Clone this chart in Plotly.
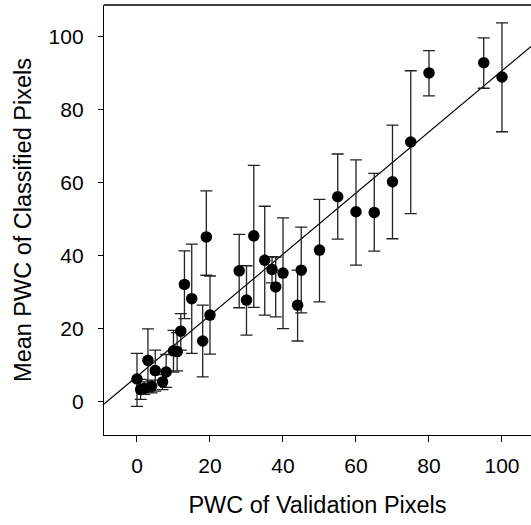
import plotly.graph_objects as go

# Data
validation_pwc = [0, 1, 2, 3, 4, 5, 7, 8, 10, 11, 12, 13, 15, 18, 19, 20,
                  28, 30, 32, 35, 37, 38, 40, 44, 45, 50, 55, 60, 65, 70, 75, 80, 95, 100]
mean_classified = [6.3, 3.4, 3.7, 11.4, 4.3, 8.6, 5.5, 8.2, 14.0, 13.8, 19.4, 32.2, 28.3, 16.7, 45.2, 23.8,
                   35.9, 27.9, 45.5, 38.8, 36.3, 31.5, 35.3, 26.5, 36.1, 41.6, 56.2, 52.1, 51.9, 60.3, 71.2, 90.1, 92.9, 89.0]
upper_bound = [13.3, 6.2, 5.5, 20.0, 6.0, 14.2, 7.5, 13.0, 19.6, 19.0, 24.2, 41.4, 43.2, 26.5, 57.8, 34.5,
               45.9, 37.3, 64.8, 53.6, 39.8, 39.7, 50.4, 36.1, 47.9, 55.5, 67.9, 66.3, 62.6, 75.8, 90.7, 96.2, 99.7, 103.8]
lower_bound = [-1.2, 0.7, 2.1, 2.7, 2.5, 3.0, 3.4, 4.0, 8.2, 8.5, 14.2, 22.8, 13.3, 6.9, 34.7, 13.1,
               25.8, 18.3, 25.9, 23.8, 32.6, 23.3, 20.1, 16.7, 24.4, 27.4, 44.6, 37.5, 41.3, 44.7, 51.6, 83.8, 85.9, 74.0]

fit_slope = 0.837
fit_intercept = 7.0

x_range = [-9.04, 107.95]
y_range = [-9.04, 108.7]
tick_vals = [0, 20, 40, 60, 80, 100]

err_plus = [u - m for u, m in zip(upper_bound, mean_classified)]
err_minus = [m - l for m, l in zip(mean_classified, lower_bound)]

FONT = "Liberation Sans, Arial, sans-serif"

fig = go.Figure()

fig.add_trace(go.Scatter(
    x=[x_range[0], x_range[1]],
    y=[fit_intercept + fit_slope * x_range[0], fit_intercept + fit_slope * x_range[1]],
    mode="lines",
    line=dict(color="black", width=1.2),
    hoverinfo="skip",
    showlegend=False,
))

fig.add_trace(go.Scatter(
    x=validation_pwc,
    y=mean_classified,
    mode="markers",
    marker=dict(color="black", size=11.5),
    error_y=dict(type="data", symmetric=False, array=err_plus, arrayminus=err_minus,
                 color="#222222", thickness=1.3, width=6),
    showlegend=False,
))

fig.update_layout(
    width=531, height=525,
    margin=dict(l=104, r=0, t=5, b=90),
    paper_bgcolor="white", plot_bgcolor="white",
    font=dict(family=FONT, color="black"),
    xaxis=dict(
        range=x_range, tickvals=tick_vals, showgrid=False, zeroline=False,
        showline=True, linecolor="black", linewidth=1.3,
        ticks="outside", ticklen=6, tickcolor="black", tickwidth=1,
        tickfont=dict(size=21, family=FONT), ticklabelstandoff=6,
        title=dict(text="PWC of Validation Pixels", font=dict(size=23.5, family=FONT), standoff=20),
    ),
    yaxis=dict(
        range=y_range, tickvals=tick_vals, showgrid=False, zeroline=False,
        showline=True, linecolor="black", linewidth=1.3,
        ticks="outside", ticklen=5, tickcolor="black", tickwidth=1,
        tickfont=dict(size=21, family=FONT), ticklabelstandoff=10,
        title=dict(text="Mean PWC of Classified Pixels", font=dict(size=23.5, family=FONT), standoff=10),
    ),
    shapes=[dict(type="line", xref="paper", yref="paper", x0=0, x1=1, y0=1, y1=1,
                 line=dict(color="black", width=1.3))],
)

fig.write_html("out.html")
